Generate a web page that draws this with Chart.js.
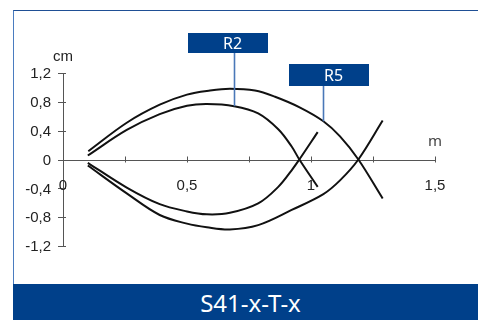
<!DOCTYPE html>
<html>
<head>
<meta charset="utf-8">
<script src="https://cdn.jsdelivr.net/npm/chart.js@4"></script>
<style>
  html, body { margin: 0; padding: 0; background: #fff; }
  #wrap { position: relative; width: 478px; height: 320px; overflow: hidden; background: #fff; }
  #frame { position: absolute; left: 13px; top: 10px; right: -2px; bottom: 36px;
           border-top: 1.5px solid #1f4f95; border-left: 1.5px solid #4a7cc0; }
  #banner { position: absolute; left: 13px; top: 284px; width: 455px; height: 36px; padding-left: 10px;
            background: #00408a; color: #fff; font: 24px "Noto Sans", sans-serif; line-height: 37px;
            text-align: center; }
  #c { position: absolute; left: 0; top: 0; }
</style>
</head>
<body>
<div id="wrap">
  <div id="frame"></div>
  <div id="banner">S41-x-T-x</div>
  <canvas id="c" width="478" height="320"></canvas>
</div>
<script>
// ---- data ----
const r2UpperX = [0.10, 0.257, 0.39, 0.50, 0.58, 0.69, 0.787, 0.868, 0.922, 0.953, 1.027];
const r2UpperY = [0.055, 0.41, 0.63, 0.745, 0.77, 0.74, 0.64, 0.42, 0.18, 0, -0.38];

const r5UpperX = [0.102, 0.257, 0.39, 0.50, 0.593, 0.673, 0.774, 0.855, 0.956, 1.05, 1.117, 1.191, 1.289];
const r5UpperY = [0.115, 0.51, 0.76, 0.90, 0.956, 0.98, 0.956, 0.87, 0.72, 0.53, 0.32, 0, -0.54];

const r2LowerX = [0.10, 0.257, 0.39, 0.50, 0.58, 0.673, 0.787, 0.868, 0.922, 0.953, 1.027];
const r2LowerY = [-0.046, -0.39, -0.62, -0.72, -0.76, -0.74, -0.61, -0.38, -0.15, 0, 0.38];

const r5LowerX = [0.10, 0.257, 0.39, 0.50, 0.58, 0.673, 0.787, 0.922, 1.05, 1.117, 1.191, 1.289];
const r5LowerY = [-0.083, -0.47, -0.77, -0.89, -0.94, -0.97, -0.91, -0.70, -0.48, -0.29, 0, 0.54];

const xTickValues = [0, 0.5, 1, 1.5];
const xTickLabels = ['0', '0,5', '1', '1,5'];
const xMarkValues = [0.25, 0.5, 0.75, 1, 1.25, 1.5];
const yTickValues = [1.2, 0.8, 0.4, 0, -0.4, -0.8, -1.2];
const yTickLabels = ['1,2', '0,8', '0,4', '0', '-0,4', '-0,8', '-1,2'];
const xUnit = 'm';
const yUnit = 'cm';

const calloutTexts = ['R2', 'R5'];
const calloutDataset = [0, 1];   // dataset the leader points to
const calloutPoint = [5, 9];     // index of the point the leader touches

function pts(xs, ys) { return xs.map((x, i) => ({ x: x, y: ys[i] })); }

const lineStyle = { showLine: true, borderColor: '#111', borderWidth: 2, pointRadius: 0,
                    tension: 0.35, fill: false };

const axesPlugin = {
  id: 'axesPlugin',
  beforeDatasetsDraw(chart) {
    const ctx = chart.ctx, xs = chart.scales.x, ys = chart.scales.y;
    const x0 = xs.getPixelForValue(0), y0 = ys.getPixelForValue(0);
    ctx.save();
    ctx.strokeStyle = '#555';
    ctx.lineWidth = 1;
    ctx.beginPath();
    ctx.moveTo(Math.round(x0) + 0.5, ys.getPixelForValue(yTickValues[0]));
    ctx.lineTo(Math.round(x0) + 0.5, ys.getPixelForValue(yTickValues[yTickValues.length - 1]));
    ctx.stroke();
    ctx.beginPath();
    ctx.moveTo(x0, Math.round(y0) + 0.5);
    ctx.lineTo(xs.getPixelForValue(1.5), Math.round(y0) + 0.5);
    ctx.stroke();
    yTickValues.forEach(v => {
      const p = Math.round(ys.getPixelForValue(v)) + 0.5;
      ctx.beginPath(); ctx.moveTo(x0 - 5, p); ctx.lineTo(x0 + 3, p); ctx.stroke();
    });
    xMarkValues.forEach(v => {
      const p = Math.round(xs.getPixelForValue(v)) + 0.5;
      ctx.beginPath(); ctx.moveTo(p, y0 - 3); ctx.lineTo(p, y0 + 3); ctx.stroke();
    });
    ctx.fillStyle = '#222';
    ctx.font = '15px "Liberation Sans", Arial, sans-serif';
    ctx.textAlign = 'right';
    ctx.textBaseline = 'alphabetic';
    yTickValues.forEach((v, i) => {
      ctx.fillText(yTickLabels[i], x0 - 12, ys.getPixelForValue(v) + 5.3);
    });
    ctx.textAlign = 'center';
    xTickValues.forEach((v, i) => {
      ctx.fillText(xTickLabels[i], xs.getPixelForValue(v), y0 + 30);
    });
    ctx.textAlign = 'left';
    ctx.fillText(yUnit, x0 - 10, ys.getPixelForValue(1.2) - 12);
    ctx.fillStyle = '#444';
    ctx.font = '15px "Noto Sans", sans-serif';
    ctx.fillText(xUnit, xs.getPixelForValue(1.5) - 7, y0 - 14);
    ctx.restore();
  }
};

const calloutPlugin = {
  id: 'calloutPlugin',
  afterDatasetsDraw(chart) {
    const ctx = chart.ctx;
    const boxStyle = [ { dx: -46, top: 33, w: 80, h: 20 }, { dx: -34, top: 64, w: 80, h: 22 } ];
    ctx.save();
    calloutTexts.forEach((t, i) => {
      const el = chart.getDatasetMeta(calloutDataset[i]).data[calloutPoint[i]];
      const s = boxStyle[i];
      const lx = Math.round(el.x) + 0.5;
      ctx.strokeStyle = '#4a78b8';
      ctx.lineWidth = 1.6;
      ctx.beginPath(); ctx.moveTo(lx, s.top + s.h); ctx.lineTo(lx, el.y); ctx.stroke();
      ctx.fillStyle = '#00408a';
      ctx.fillRect(lx - 0.5 + s.dx, s.top, s.w, s.h);
      ctx.fillStyle = '#fff';
      ctx.font = '16px "Noto Sans", sans-serif';
      ctx.textAlign = 'center';
      ctx.textBaseline = 'middle';
      ctx.fillText(t, lx + s.dx + s.w / 2 + 4, s.top + s.h / 2 + 1);
    });
    ctx.restore();
  }
};

new Chart(document.getElementById('c'), {
  type: 'scatter',
  data: {
    datasets: [
      Object.assign({ label: 'R2', data: pts(r2UpperX, r2UpperY) }, lineStyle),
      Object.assign({ label: 'R5', data: pts(r5UpperX, r5UpperY) }, lineStyle),
      Object.assign({ label: 'R2 ', data: pts(r2LowerX, r2LowerY) }, lineStyle),
      Object.assign({ label: 'R5 ', data: pts(r5LowerX, r5LowerY) }, lineStyle)
    ]
  },
  options: {
    responsive: false,
    devicePixelRatio: 1,
    animation: false,
    layout: { padding: { left: 63, right: 43, top: 73, bottom: 74 } },
    plugins: { legend: { display: false }, tooltip: { enabled: false } },
    scales: {
      x: { type: 'linear', min: 0, max: 1.5, display: false },
      y: { type: 'linear', min: -1.2, max: 1.2, display: false }
    }
  },
  plugins: [axesPlugin, calloutPlugin]
});
</script>
</body>
</html>
